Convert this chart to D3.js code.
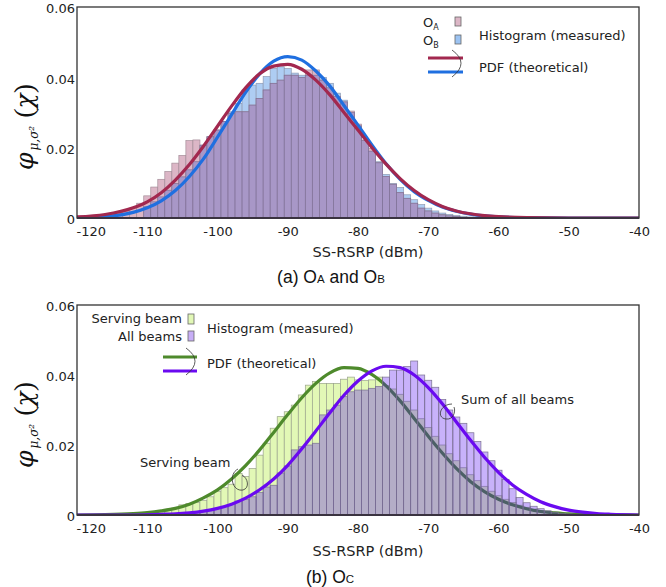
<!DOCTYPE html>
<html>
<head>
<meta charset="utf-8">
<script src="https://cdn.jsdelivr.net/npm/d3@7"></script>
<style>
  body { margin: 0; background: #fff; }
  svg { font-family: "DejaVu Sans", Verdana, sans-serif; }
</style>
</head>
<body>
<div id="chart"></div>
<script>
// ---- data (bin centre in dBm, density) ----
var xTicks = [-120, -110, -100, -90, -80, -70, -60, -50, -40];
var yTicks = [0, 0.02, 0.04, 0.06];
var yTickLabels = ["0", "0.02", "0.04", "0.06"];

// (a) histogram O_A
var histA = [[-117,0.0004],[-116,0.0007],[-115,0.0010],[-114,0.0014],[-113,0.0020],[-112,0.0028],
  [-111,0.0042],[-110,0.0063],[-109,0.0088],[-108,0.0110],[-107,0.0132],[-106,0.0156],[-105,0.0178],
  [-104,0.0220],[-103,0.0222],[-102,0.0207],[-101,0.0231],[-100,0.0250],[-99,0.0274],[-98,0.0298],
  [-97,0.0302],[-96,0.0302],[-95,0.0321],[-94,0.0340],[-93,0.0364],[-92,0.0383],[-91,0.0392],
  [-90,0.0406],[-89,0.0406],[-88,0.0400],[-87,0.0421],[-86,0.0421],[-85,0.0392],[-84,0.0370],
  [-83,0.0345],[-82,0.0330],[-81,0.0304],[-80,0.0267],[-79,0.0222],[-78,0.0198],[-77,0.0157],
  [-76,0.0118],[-75,0.0096],[-74,0.0072],[-73,0.0056],[-72,0.0042],[-71,0.0028],[-70,0.0020],
  [-69,0.0014],[-68,0.0009],[-67,0.0006],[-66,0.0004],[-65,0.0002]];
// (a) histogram O_B
var histB = [[-110,0.0032],[-109,0.0046],[-108,0.0060],[-107,0.0079],[-106,0.0098],[-105,0.0117],
  [-104,0.0137],[-103,0.0160],[-102,0.0207],[-101,0.0231],[-100,0.0250],[-99,0.0274],[-98,0.0302],
  [-97,0.0326],[-96,0.0364],[-95,0.0378],[-94,0.0383],[-93,0.0402],[-92,0.0425],[-91,0.0430],
  [-90,0.0425],[-89,0.0412],[-88,0.0406],[-87,0.0406],[-86,0.0406],[-85,0.0400],[-84,0.0383],
  [-83,0.0355],[-82,0.0335],[-81,0.0300],[-80,0.0262],[-79,0.0220],[-78,0.0190],[-77,0.0160],
  [-76,0.0124],[-75,0.0098],[-74,0.0087],[-73,0.0066],[-72,0.0052],[-71,0.0038],[-70,0.0028],
  [-69,0.0020],[-68,0.0014],[-67,0.0010],[-66,0.0007],[-65,0.0005],[-64,0.0003],[-63,0.0002]];
// (a) theoretical PDFs
var pdfA = [[-120,0.0003],[-116,0.0010],[-112,0.0029],[-110,0.0046],[-108,0.0072],[-106,0.0108],
  [-104,0.0152],[-102,0.0204],[-100,0.0261],[-98,0.0318],[-96,0.0370],[-94,0.0410],[-92,0.0432],
  [-90,0.0437],[-88,0.0423],[-86,0.0392],[-84,0.0350],[-82,0.0300],[-80,0.0250],[-78,0.0200],
  [-76,0.0153],[-74,0.0112],[-72,0.0078],[-70,0.0052],[-68,0.0033],[-66,0.0020],[-64,0.0012],
  [-62,0.0007],[-60,0.0004],[-56,0.0001],[-50,0],[-40,0]];
var pdfB = [[-120,0.0001],[-116,0.0004],[-112,0.0016],[-110,0.0029],[-108,0.0049],[-106,0.0078],
  [-104,0.0118],[-102,0.0168],[-100,0.0230],[-98,0.0294],[-96,0.0357],[-94,0.0410],[-92,0.0446],
  [-90,0.0459],[-88,0.0449],[-86,0.0418],[-84,0.0375],[-82,0.0320],[-80,0.0264],[-78,0.0207],
  [-76,0.0154],[-74,0.0110],[-72,0.0075],[-70,0.0050],[-68,0.0031],[-66,0.0019],[-64,0.0011],
  [-62,0.0006],[-60,0.0003],[-56,0.0001],[-50,0],[-40,0]];

// (b) histogram serving beam
var histServing = [[-110,0.0004],[-109,0.0006],[-108,0.0009],[-107,0.0013],[-106,0.0020],[-105,0.0029],
  [-104,0.0033],[-103,0.0036],[-102,0.0042],[-101,0.0052],[-100,0.0068],[-99,0.0078],[-98,0.0088],
  [-97,0.0119],[-96,0.0110],[-95,0.0133],[-94,0.0171],[-93,0.0205],[-92,0.0248],[-91,0.0281],
  [-90,0.0295],[-89,0.0314],[-88,0.0343],[-87,0.0371],[-86,0.0381],[-85,0.0376],[-84,0.0376],
  [-83,0.0376],[-82,0.0388],[-81,0.0394],[-80,0.0386],[-79,0.0384],[-78,0.0386],[-77,0.0394],
  [-76,0.0370],[-75,0.0360],[-74,0.0345],[-73,0.0325],[-72,0.0300],[-71,0.0275],[-70,0.0250],
  [-69,0.0225],[-68,0.0200],[-67,0.0175],[-66,0.0155],[-65,0.0135],[-64,0.0115],[-63,0.0098],
  [-62,0.0082],[-61,0.0068],[-60,0.0055],[-59,0.0045],[-58,0.0036],[-57,0.0028],[-56,0.0022],
  [-55,0.0017],[-54,0.0013],[-53,0.0010],[-52,0.0007],[-51,0.0005],[-50,0.0004],[-49,0.0003],[-48,0.0002]];
// (b) histogram all beams
var histAll = [[-108,0.0002],[-107,0.0003],[-106,0.0004],[-105,0.0005],[-104,0.0007],[-103,0.0009],
  [-102,0.0012],[-101,0.0015],[-100,0.0019],[-99,0.0024],[-98,0.0030],[-97,0.0040],[-96,0.0045],
  [-95,0.0052],[-94,0.0064],[-93,0.0080],[-92,0.0085],[-91,0.0120],[-90,0.0140],[-89,0.0186],
  [-88,0.0195],[-87,0.0200],[-86,0.0205],[-85,0.0286],[-84,0.0300],[-83,0.0314],[-82,0.0338],
  [-81,0.0352],[-80,0.0357],[-79,0.0357],[-78,0.0362],[-77,0.0367],[-76,0.0394],[-75,0.0414],
  [-74,0.0414],[-73,0.0424],[-72,0.0440],[-71,0.0400],[-70,0.0385],[-69,0.0365],[-68,0.0330],
  [-67,0.0300],[-66,0.0280],[-65,0.0262],[-64,0.0235],[-63,0.0210],[-62,0.0180],[-61,0.0155],
  [-60,0.0128],[-59,0.0102],[-58,0.0075],[-57,0.0050],[-56,0.0035],[-55,0.0025],[-54,0.0018],
  [-53,0.0012],[-52,0.0008],[-51,0.0005],[-50,0.0003]];
// (b) theoretical PDFs
var pdfServing = [[-120,0],[-116,0.0001],[-112,0.0004],[-110,0.0007],[-108,0.0012],[-106,0.0019],
  [-104,0.0031],[-102,0.0049],[-100,0.0072],[-98,0.0103],[-96,0.0141],[-94,0.0186],[-92,0.0236],
  [-90,0.0287],[-88,0.0335],[-86,0.0376],[-84,0.0406],[-82,0.0421],[-80,0.0419],[-78,0.0401],
  [-76,0.0369],[-74,0.0326],[-72,0.0276],[-70,0.0225],[-68,0.0177],[-66,0.0133],[-64,0.0096],
  [-62,0.0067],[-60,0.0045],[-58,0.0029],[-56,0.0018],[-54,0.0010],[-52,0.0006],[-50,0.0003],
  [-46,0.0001],[-40,0]];
var pdfAll = [[-120,0],[-112,0],[-108,0.0002],[-106,0.0003],[-104,0.0006],[-102,0.0011],[-100,0.0019],
  [-98,0.0031],[-96,0.0048],[-94,0.0072],[-92,0.0103],[-90,0.0142],[-88,0.0189],[-86,0.0240],
  [-84,0.0292],[-82,0.0342],[-80,0.0383],[-78,0.0412],[-76,0.0425],[-74,0.0421],[-72,0.0400],
  [-70,0.0364],[-68,0.0318],[-66,0.0266],[-64,0.0214],[-62,0.0165],[-60,0.0122],[-58,0.0086],
  [-56,0.0059],[-54,0.0038],[-52,0.0024],[-50,0.0014],[-48,0.0008],[-46,0.0004],[-44,0.0002],[-40,0]];

// ---- drawing ----
var W = 666, H = 587;
var svg = d3.select("#chart").append("svg")
    .attr("width", W)
    .attr("height", H);

var plotLeft = 77, plotRight = 639;
var x = d3.scaleLinear().domain([-120, -40]).range([plotLeft, plotRight]);

var line = function(y) {
  return d3.line()
    .x(function(d) { return x(d[0]); })
    .y(function(d) { return y(d[1]); })
    .curve(d3.curveMonotoneX);
};

function drawBars(g, y, data, fill, stroke) {
  g.append("g").selectAll("rect")
    .data(data)
    .enter().append("rect")
    .attr("x", function(d) { return x(d[0] - 0.5); })
    .attr("width", function(d) { return x(d[0] + 0.5) - x(d[0] - 0.5); })
    .attr("y", function(d) { return y(d[1]); })
    .attr("height", function(d) { return y(0) - y(d[1]); })
    .attr("fill", fill)
    .attr("stroke", stroke)
    .attr("stroke-width", 0.7);
}

function drawFrame(top, bottom, id) {
  var y = d3.scaleLinear().domain([0, 0.06]).range([bottom, top]);

  svg.append("clipPath").attr("id", id)
    .append("rect").attr("x", plotLeft).attr("y", top)
    .attr("width", plotRight - plotLeft).attr("height", bottom - top);

  var xAxis = svg.append("g")
      .attr("transform", "translate(0," + (bottom + 8) + ")")
      .call(d3.axisBottom(x).tickValues(xTicks).tickSize(0).tickPadding(0)
        .tickFormat(function(d) { return String(d); }));
  xAxis.select(".domain").remove();
  xAxis.selectAll("text").attr("font-size", 13).attr("fill", "#222")
    .attr("font-family", "DejaVu Sans, Verdana, sans-serif").attr("dy", "0.78em");
  // first label starts at the frame, to the right of the "0" of the y axis
  xAxis.selectAll("text").filter(function(d) { return d === -120; })
    .attr("text-anchor", "start").attr("x", -1);

  var yAxis = svg.append("g")
      .attr("transform", "translate(" + (plotLeft - 2) + ",0)")
      .call(d3.axisLeft(y).tickValues(yTicks).tickSize(0).tickPadding(0)
        .tickFormat(function(d, i) { return yTickLabels[i]; }));
  yAxis.select(".domain").remove();
  yAxis.selectAll("text").attr("font-size", 13).attr("fill", "#222")
    .attr("font-family", "DejaVu Sans, Verdana, sans-serif").attr("dy", "0.45em");

  return y;
}

function finishFrame(top, bottom) {
  svg.append("rect")
    .attr("x", plotLeft).attr("y", top)
    .attr("width", plotRight - plotLeft).attr("height", bottom - top)
    .attr("fill", "none").attr("stroke", "#333").attr("stroke-width", 1.3);
  svg.append("line")
    .attr("x1", plotLeft).attr("x2", plotRight).attr("y1", bottom).attr("y2", bottom)
    .attr("stroke", "#3a3340").attr("stroke-width", 2);
}

function yLabel(cx, cy) {
  var t = svg.append("text")
    .attr("transform", "translate(" + cx + "," + cy + ") rotate(-90)")
    .attr("text-anchor", "middle")
    .attr("font-family", "DejaVu Serif, serif")
    .attr("font-style", "italic")
    .attr("fill", "#111");
  t.append("tspan").attr("font-size", 25).text("\u03C6");
  t.append("tspan").attr("font-size", 12).attr("dy", 5).attr("dx", 2).text("\u03BC,\u03C3\u00B2");
  t.append("tspan").attr("font-size", 28).attr("dy", -5).attr("dx", 8)
    .attr("font-style", "normal").attr("font-family", "Liberation Serif, serif").text("(");
  t.append("tspan").attr("font-size", 25).text("\u03C7");
  t.append("tspan").attr("font-size", 28).attr("font-style", "normal")
    .attr("font-family", "Liberation Serif, serif").text(")");
}

function xLabel(cy) {
  svg.append("text").attr("x", 368).attr("y", cy)
    .attr("text-anchor", "middle").attr("font-size", 14.5).attr("fill", "#222")
    .text("SS-RSRP (dBm)");
}

function caption(cx, cy, parts) {
  var t = svg.append("text").attr("x", cx).attr("y", cy)
    .attr("text-anchor", "middle")
    .attr("font-family", "Liberation Sans, Arial, sans-serif")
    .attr("font-size", 17.5).attr("fill", "#111");
  parts.forEach(function(p) {
    t.append("tspan").attr("font-size", p[1] ? 11.5 : 17.5).text(p[0]);
  });
}

// ---------- panel (a) ----------
var topA = 7, botA = 218;
var yA = drawFrame(topA, botA, "clipA");
var gA = svg.append("g").attr("clip-path", "url(#clipA)");

var mapB = new Map(histB);
var overlapAB = histA.filter(function(d) { return mapB.has(d[0]); })
  .map(function(d) { return [d[0], Math.min(d[1], mapB.get(d[0]))]; });

drawBars(gA, yA, histB, "#aecdf3", "#8f9bb3");
drawBars(gA, yA, histA, "#dcb6c6", "#a58d99");
drawBars(gA, yA, overlapAB, "#a897c7", "#7f7196");

gA.append("path").datum(pdfB).attr("d", line(yA))
  .attr("fill", "none").attr("stroke", "#1f6fe0").attr("stroke-width", 3.2);
gA.append("path").datum(pdfA).attr("d", line(yA))
  .attr("fill", "none").attr("stroke", "#a2284f").attr("stroke-width", 3.2);
finishFrame(topA, botA);

yLabel(33, 127);
xLabel(257);
caption(331, 283, [["(a) O", false], ["A", true], [" and O", false], ["B", true]]);

// legend (a)
var legA = svg.append("g").attr("font-size", 13).attr("fill", "#222");
var oa = legA.append("text").attr("x", 423).attr("y", 27);
oa.append("tspan").text("O");
oa.append("tspan").attr("font-size", 8).attr("dy", 3).text("A");
var ob = legA.append("text").attr("x", 423).attr("y", 45);
ob.append("tspan").text("O");
ob.append("tspan").attr("font-size", 8).attr("dy", 3).text("B");
legA.append("rect").attr("x", 455).attr("y", 17).attr("width", 6).attr("height", 9)
  .attr("fill", "#dcb6c6").attr("stroke", "#666").attr("stroke-width", 0.8);
legA.append("rect").attr("x", 455).attr("y", 35).attr("width", 6).attr("height", 9)
  .attr("fill", "#9cc3f2").attr("stroke", "#666").attr("stroke-width", 0.8);
legA.append("text").attr("x", 479).attr("y", 40).text("Histogram (measured)");
legA.append("line").attr("x1", 428).attr("x2", 463).attr("y1", 58).attr("y2", 58)
  .attr("stroke", "#a2284f").attr("stroke-width", 3);
legA.append("line").attr("x1", 428).attr("x2", 463).attr("y1", 72).attr("y2", 72)
  .attr("stroke", "#1f6fe0").attr("stroke-width", 3);
legA.append("path").attr("d", "M452,50 Q470,63 452,77")
  .attr("fill", "none").attr("stroke", "#333").attr("stroke-width", 0.8);
legA.append("text").attr("x", 479).attr("y", 72).text("PDF (theoretical)");

// ---------- panel (b) ----------
var topB = 305, botB = 515;
var yB = drawFrame(topB, botB, "clipB");
var gB = svg.append("g").attr("clip-path", "url(#clipB)");

drawBars(gB, yB, histServing, "#e2f8b6", "#9aa38c");
gB.append("path").datum(pdfServing).attr("d", line(yB))
  .attr("fill", "none").attr("stroke", "#4e8a2c").attr("stroke-width", 3.2);
drawBars(gB, yB, histAll, "rgba(72,0,238,0.3)", "#7a7090");
gB.append("path").datum(pdfAll).attr("d", line(yB))
  .attr("fill", "none").attr("stroke", "#6a0af0").attr("stroke-width", 3.2);
finishFrame(topB, botB);

yLabel(33, 425);
xLabel(556);
caption(330, 583, [["(b) O", false], ["C", true]]);

// legend (b)
var legB = svg.append("g").attr("font-size", 13).attr("fill", "#222");
legB.append("text").attr("x", 182).attr("y", 322.5).attr("text-anchor", "end").text("Serving beam");
legB.append("text").attr("x", 182).attr("y", 340.5).attr("text-anchor", "end").text("All beams");
legB.append("rect").attr("x", 188).attr("y", 314).attr("width", 6).attr("height", 10)
  .attr("fill", "#e2f8b6").attr("stroke", "#666").attr("stroke-width", 0.8);
legB.append("rect").attr("x", 188).attr("y", 331).attr("width", 6).attr("height", 10)
  .attr("fill", "#c7aef6").attr("stroke", "#666").attr("stroke-width", 0.8);
legB.append("text").attr("x", 207).attr("y", 332.5).text("Histogram (measured)");
legB.append("line").attr("x1", 163).attr("x2", 197).attr("y1", 357).attr("y2", 357)
  .attr("stroke", "#4e8a2c").attr("stroke-width", 3);
legB.append("line").attr("x1", 163).attr("x2", 197).attr("y1", 371).attr("y2", 371)
  .attr("stroke", "#6a0af0").attr("stroke-width", 3);
legB.append("path").attr("d", "M186,348 Q204,361 186,375")
  .attr("fill", "none").attr("stroke", "#333").attr("stroke-width", 0.8);
legB.append("text").attr("x", 207).attr("y", 367.5).text("PDF (theoretical)");

// annotations (b)
var ann = svg.append("g").attr("font-size", 13).attr("fill", "#222");
ann.append("text").attr("x", 140).attr("y", 466.5).text("Serving beam");
ann.append("path").attr("d", "M238,469 C228,474 232,492 243,490 C250,488 248,478 242,475")
  .attr("fill", "none").attr("stroke", "#333").attr("stroke-width", 0.8);
ann.append("text").attr("x", 461).attr("y", 403.5).text("Sum of all beams");
ann.append("path").attr("d", "M452,404 C440,404 436,418 446,419 C453,420 456,412 454,407")
  .attr("fill", "none").attr("stroke", "#333").attr("stroke-width", 0.8);
</script>
</body>
</html>
